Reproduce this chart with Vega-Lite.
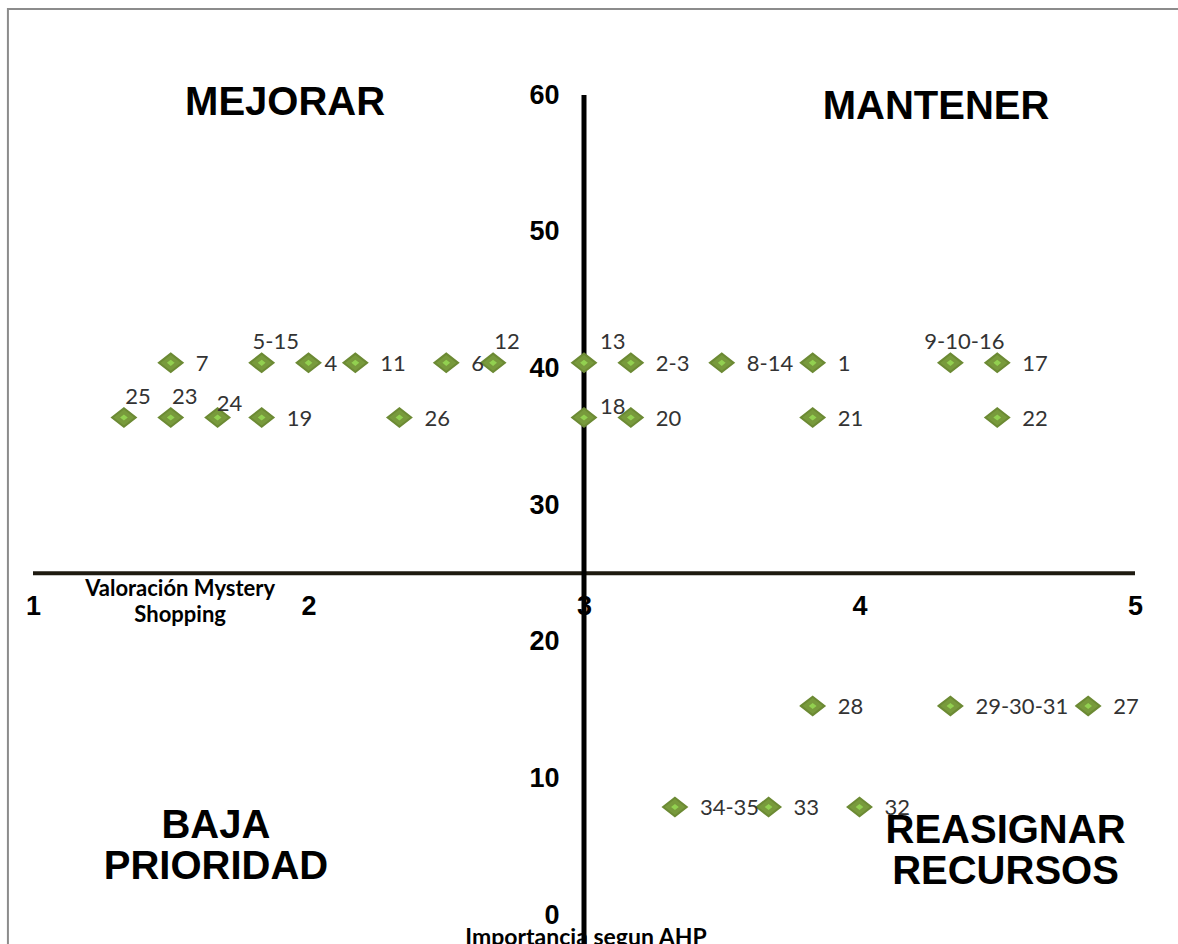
{
  "$schema": "https://vega.github.io/schema/vega-lite/v6.json",
  "autosize": "none",
  "width": 1102,
  "height": 820,
  "padding": {"left": 33, "top": 95, "right": 43, "bottom": 29},
  "background": "white",
  "config": {"view": {"stroke": null}},
  "datasets": {
    "points": [
      {"label": "7", "x": 1.5, "y": 40.4},
      {"label": "5-15", "x": 1.83, "y": 40.4},
      {"label": "4", "x": 2.0, "y": 40.4},
      {"label": "11", "x": 2.17, "y": 40.4},
      {"label": "6", "x": 2.5, "y": 40.4},
      {"label": "12", "x": 2.67, "y": 40.4},
      {"label": "13", "x": 3.0, "y": 40.4},
      {"label": "2-3", "x": 3.17, "y": 40.4},
      {"label": "8-14", "x": 3.5, "y": 40.4},
      {"label": "1", "x": 3.83, "y": 40.4},
      {"label": "9-10-16", "x": 4.33, "y": 40.4},
      {"label": "17", "x": 4.5, "y": 40.4},
      {"label": "25", "x": 1.33, "y": 36.4},
      {"label": "23", "x": 1.5, "y": 36.4},
      {"label": "24", "x": 1.67, "y": 36.4},
      {"label": "19", "x": 1.83, "y": 36.4},
      {"label": "26", "x": 2.33, "y": 36.4},
      {"label": "18", "x": 3.0, "y": 36.4},
      {"label": "20", "x": 3.17, "y": 36.4},
      {"label": "21", "x": 3.83, "y": 36.4},
      {"label": "22", "x": 4.5, "y": 36.4},
      {"label": "28", "x": 3.83, "y": 15.3},
      {"label": "29-30-31", "x": 4.33, "y": 15.3},
      {"label": "27", "x": 4.83, "y": 15.3},
      {"label": "34-35", "x": 3.33, "y": 7.9},
      {"label": "33", "x": 3.67, "y": 7.9},
      {"label": "32", "x": 4.0, "y": 7.9}
    ],
    "quadrants": [
      {"text": "MEJORAR", "x": 1.915, "y": 59.4},
      {"text": "MANTENER", "x": 4.278, "y": 59.1},
      {"text": "BAJA\nPRIORIDAD", "x": 1.664, "y": 6.5},
      {"text": "REASIGNAR\nRECURSOS", "x": 4.53, "y": 6.15}
    ],
    "titles": [
      {"text": "Valoración Mystery\nShopping", "x": 1.534, "y": 23.85, "pos": "x"},
      {"text": "Importancia segun AHP", "x": 3.007, "y": -0.85, "pos": "y"}
    ]
  },
  "layer": [
    {
      "data": {"values": [{}]},
      "mark": {"type": "rect", "fill": null, "stroke": "#8c8c8c", "strokeWidth": 2, "clip": false},
      "encoding": {
        "x": {"datum": 0.909, "type": "quantitative", "scale": {"domain": [1, 5], "nice": false, "zero": false}},
        "x2": {"datum": 5.4},
        "y": {"datum": 66.3, "type": "quantitative", "scale": {"domain": [0, 60], "nice": false, "zero": false}},
        "y2": {"datum": -6}
      }
    },
    {
      "data": {"values": [{}]},
      "mark": {"type": "rule", "stroke": "#1e1a10", "strokeWidth": 4},
      "encoding": {
        "x": {"datum": 1, "type": "quantitative"},
        "x2": {"datum": 5},
        "y": {"datum": 25, "type": "quantitative"}
      }
    },
    {
      "data": {"values": [{}]},
      "mark": {"type": "rule", "stroke": "#000000", "strokeWidth": 5},
      "encoding": {
        "x": {"datum": 3, "type": "quantitative"},
        "y": {"datum": 60, "type": "quantitative"},
        "y2": {"datum": -3}
      }
    },
    {
      "data": {"name": "points"},
      "mark": {"type": "point", "shape": "M-1,0L0,-0.78L1,0L0,0.78Z", "filled": true, "fill": "#789a3c", "stroke": "#6c8a34", "strokeWidth": 2, "opacity": 1, "size": 560},
      "encoding": {
        "x": {
          "field": "x", "type": "quantitative",
          "scale": {"domain": [1, 5], "nice": false, "zero": false},
          "axis": {
            "orient": "bottom", "offset": -342, "values": [1, 2, 3, 4, 5], "format": "d",
            "domain": false, "ticks": false, "grid": false, "title": null,
            "labelFont": "Liberation Sans", "labelFontWeight": "bold", "labelFontSize": 27,
            "labelColor": "#000000", "labelPadding": 20, "labelFlush": false
          }
        },
        "y": {
          "field": "y", "type": "quantitative",
          "scale": {"domain": [0, 60], "nice": false, "zero": false},
          "axis": {
            "orient": "left", "offset": -551, "values": [0, 10, 20, 30, 40, 50, 60], "format": "d",
            "domain": false, "ticks": false, "grid": false, "title": null,
            "labelFont": "Liberation Sans", "labelFontWeight": "bold", "labelFontSize": 27,
            "labelColor": "#000000", "labelPadding": 25, "labelFlush": false
          }
        }
      }
    },
    {
      "data": {"name": "points"},
      "mark": {"type": "point", "shape": "M-1,0L0,-0.78L1,0L0,0.78Z", "filled": true, "fill": "#92d050", "opacity": 1, "size": 60},
      "encoding": {
        "x": {"field": "x", "type": "quantitative"},
        "y": {"field": "y", "type": "quantitative"}
      }
    },
    {
      "data": {"name": "points"},
      "transform": [{"filter": {"not": {"field": "label", "oneOf": ["5-15", "9-10-16", "25", "23", "24", "12", "13", "18", "4"]}}}],
      "mark": {"type": "text", "align": "left", "baseline": "middle", "dx": 25, "dy": 1, "font": "Lato", "fontSize": 22, "color": "#333333"},
      "encoding": {
        "x": {"field": "x", "type": "quantitative"},
        "y": {"field": "y", "type": "quantitative"},
        "text": {"field": "label"}
      }
    },
    {
      "data": {"name": "points"},
      "transform": [{"filter": {"field": "label", "oneOf": ["4"]}}],
      "mark": {"type": "text", "align": "left", "baseline": "middle", "dx": 16, "dy": 1, "font": "Lato", "fontSize": 22, "color": "#333333"},
      "encoding": {
        "x": {"field": "x", "type": "quantitative"},
        "y": {"field": "y", "type": "quantitative"},
        "text": {"field": "label"}
      }
    },
    {
      "data": {"name": "points"},
      "transform": [{"filter": {"field": "label", "oneOf": ["5-15", "9-10-16", "25", "23", "12"]}}],
      "mark": {"type": "text", "align": "center", "baseline": "middle", "dx": 14, "dy": -21, "font": "Lato", "fontSize": 22, "color": "#333333"},
      "encoding": {
        "x": {"field": "x", "type": "quantitative"},
        "y": {"field": "y", "type": "quantitative"},
        "text": {"field": "label"}
      }
    },
    {
      "data": {"name": "points"},
      "transform": [{"filter": {"field": "label", "oneOf": ["24"]}}],
      "mark": {"type": "text", "align": "center", "baseline": "middle", "dx": 12, "dy": -14, "font": "Lato", "fontSize": 22, "color": "#333333"},
      "encoding": {
        "x": {"field": "x", "type": "quantitative"},
        "y": {"field": "y", "type": "quantitative"},
        "text": {"field": "label"}
      }
    },
    {
      "data": {"name": "points"},
      "transform": [{"filter": {"field": "label", "oneOf": ["13"]}}],
      "mark": {"type": "text", "align": "left", "baseline": "middle", "dx": 16, "dy": -21, "font": "Lato", "fontSize": 22, "color": "#333333"},
      "encoding": {
        "x": {"field": "x", "type": "quantitative"},
        "y": {"field": "y", "type": "quantitative"},
        "text": {"field": "label"}
      }
    },
    {
      "data": {"name": "points"},
      "transform": [{"filter": {"field": "label", "oneOf": ["18"]}}],
      "mark": {"type": "text", "align": "left", "baseline": "middle", "dx": 16, "dy": -11, "font": "Lato", "fontSize": 22, "color": "#333333"},
      "encoding": {
        "x": {"field": "x", "type": "quantitative"},
        "y": {"field": "y", "type": "quantitative"},
        "text": {"field": "label"}
      }
    },
    {
      "data": {"name": "quadrants"},
      "mark": {"type": "text", "align": "center", "baseline": "middle", "lineBreak": "\n", "lineHeight": 41, "font": "Liberation Sans", "fontWeight": "bold", "fontSize": 40, "color": "#000000"},
      "encoding": {
        "x": {"field": "x", "type": "quantitative"},
        "y": {"field": "y", "type": "quantitative"},
        "text": {"field": "text"}
      }
    },
    {
      "data": {"name": "titles"},
      "transform": [{"filter": {"field": "pos", "equal": "x"}}],
      "mark": {"type": "text", "align": "center", "baseline": "middle", "lineBreak": "\n", "lineHeight": 26, "font": "Lato", "fontWeight": "bold", "fontSize": 22, "color": "#000000"},
      "encoding": {
        "x": {"field": "x", "type": "quantitative"},
        "y": {"field": "y", "type": "quantitative"},
        "text": {"field": "text"}
      }
    },
    {
      "data": {"name": "titles"},
      "transform": [{"filter": {"field": "pos", "equal": "y"}}],
      "mark": {"type": "text", "align": "center", "baseline": "top", "font": "Lato", "fontWeight": "bold", "fontSize": 23, "color": "#000000"},
      "encoding": {
        "x": {"field": "x", "type": "quantitative"},
        "y": {"field": "y", "type": "quantitative"},
        "text": {"field": "text"}
      }
    }
  ]
}
